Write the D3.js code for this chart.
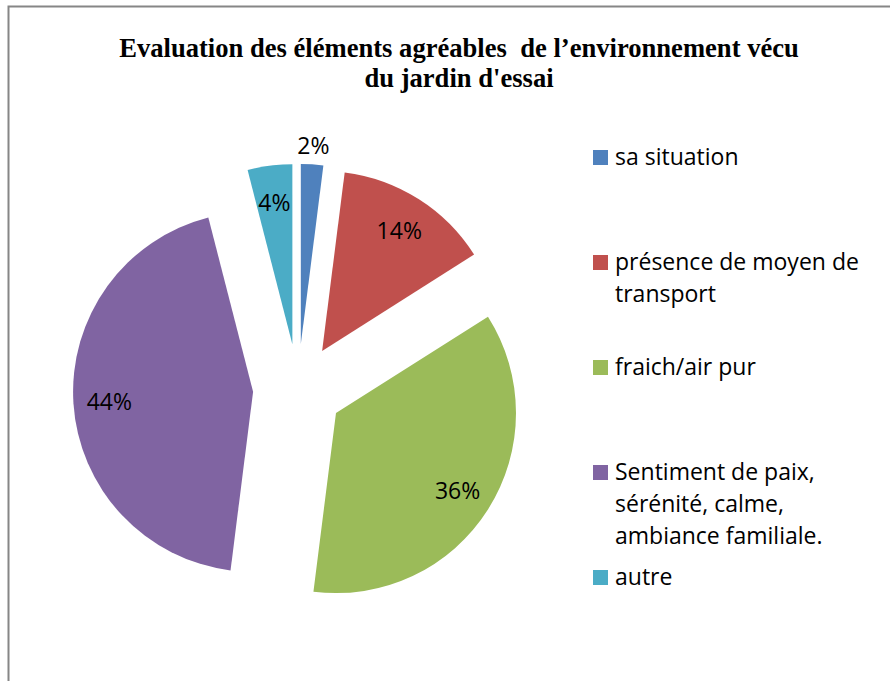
<!DOCTYPE html>
<html>
<head>
<meta charset="utf-8">
<script src="https://cdn.jsdelivr.net/npm/d3@7"></script>
<style>
  html, body { margin: 0; padding: 0; background: #fff; overflow: hidden; }
</style>
</head>
<body>
<div id="chart"></div>
<script>
const categories = [
  'sa situation',
  'présence de moyen de transport',
  'fraich/air pur',
  'Sentiment de paix, sérénité, calme, ambiance familiale.',
  'autre'
];
const values = [2, 14, 36, 44, 4];
const colors = ['#4F81BD', '#C0504D', '#9BBB59', '#8064A2', '#4BACC6'];
const titleLines = [
  'Evaluation des éléments agréables  de l\u2019environnement vécu',
  'du jardin d\'essai'
];

const width = 890, height = 681;
const cx = 298, cy = 389, radius = 180, explode = 45;
const labelFont = '"Open Sans", sans-serif';

const svg = d3.select('#chart')
  .append('svg')
    .attr('width', width)
    .attr('height', height);

// chart area frame (runs off the right and bottom edges)
svg.append('rect')
  .attr('x', 8.5).attr('y', 6.5)
  .attr('width', 920).attr('height', 720)
  .attr('fill', 'none')
  .attr('stroke', '#868686')
  .attr('stroke-width', 2);

// title
const title = svg.append('g')
  .attr('font-family', '"Liberation Serif", "Times New Roman", serif')
  .attr('font-weight', 'bold')
  .attr('font-size', 28)
  .attr('fill', '#000');
titleLines.forEach((t, i) => {
  title.append('text')
    .attr('transform', `translate(459, ${57 + i * 30}) scale(0.95, 1)`)
    .attr('text-anchor', 'middle')
    .style('white-space', 'pre')
    .text(t);
});

const total = d3.sum(values);
const pct = d3.format('.0%');

const pie = d3.pie().sort(null).value(d => d)(values);
const arc = d3.arc().innerRadius(0).outerRadius(radius);
const labelArc = d3.arc().innerRadius(144).outerRadius(144);
const outsideArc = d3.arc().innerRadius(radius + 20).outerRadius(radius + 20);

const offset = d => {
  const a = (d.startAngle + d.endAngle) / 2;
  return [explode * Math.sin(a), -explode * Math.cos(a)];
};

const g = svg.append('g').attr('transform', `translate(${cx}, ${cy})`);

const slice = g.selectAll('g.slice')
  .data(pie)
  .enter().append('g')
    .attr('class', 'slice')
    .attr('transform', d => `translate(${offset(d)})`);

slice.append('path')
  .attr('d', arc)
  .attr('fill', (d, i) => colors[i]);

// small slices get their label outside the pie
slice.append('text')
  .attr('transform', d => `translate(${(d.value / total < 0.03 ? outsideArc : labelArc).centroid(d)})`)
  .attr('text-anchor', 'middle')
  .attr('dy', '0.4em')
  .attr('font-family', labelFont)
  .attr('font-size', 23)
  .attr('fill', '#000')
  .text(d => pct(d.value / total));

// legend
const ly = d3.scalePoint().domain(categories).range([165, 585]);
const legend = svg.append('g')
  .attr('font-family', labelFont)
  .attr('font-size', 23)
  .attr('fill', '#000');

const item = legend.selectAll('g')
  .data(categories)
  .enter().append('g')
    .attr('transform', d => `translate(593, ${ly(d)})`);

item.append('rect')
  .attr('y', -15)
  .attr('width', 15).attr('height', 15)
  .attr('fill', (d, i) => colors[i]);

item.append('text')
  .attr('x', 22)
  .each(function(d) {
    const text = d3.select(this);
    const words = d.split(' ');
    let line = [];
    let lineNo = 0;
    let tspan = text.append('tspan').attr('x', 22).attr('y', 0);
    words.forEach(w => {
      line.push(w);
      tspan.text(line.join(' '));
      if (tspan.node().getComputedTextLength() > 262 && line.length > 1) {
        line.pop();
        tspan.text(line.join(' '));
        line = [w];
        lineNo++;
        tspan = text.append('tspan').attr('x', 22).attr('y', lineNo * 32).text(w);
      }
    });
  });
</script>
</body>
</html>
